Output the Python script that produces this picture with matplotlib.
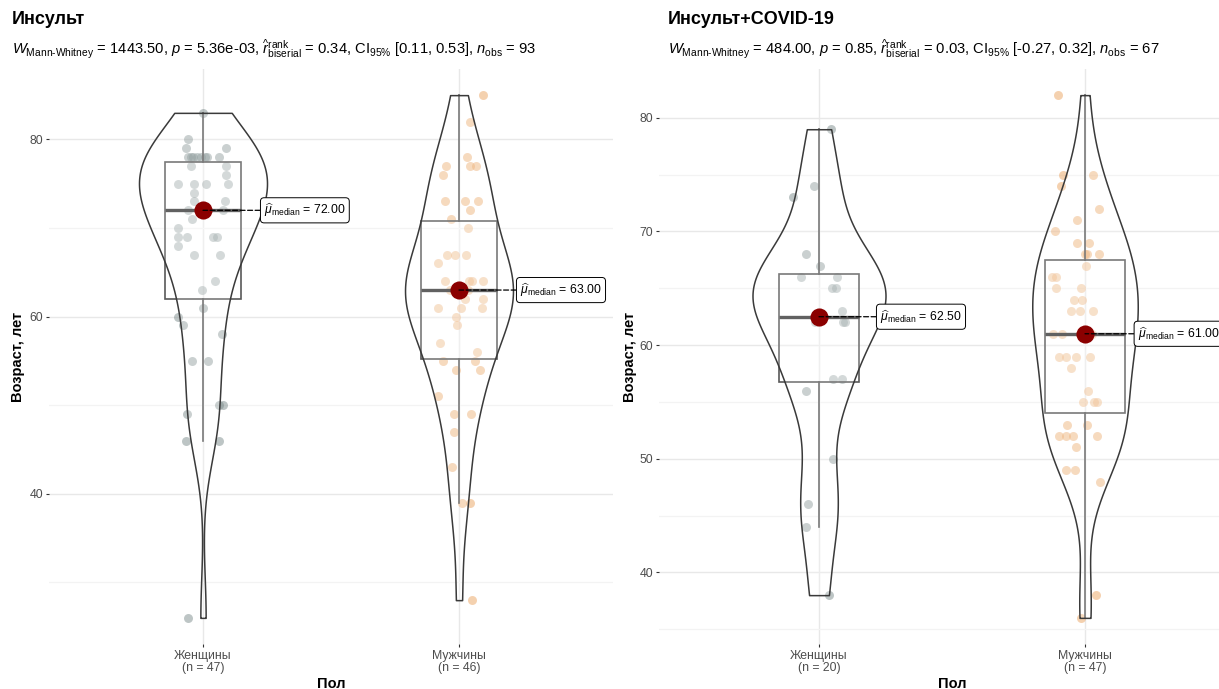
import numpy as np
import matplotlib
matplotlib.use("Agg")
import matplotlib.pyplot as plt
from matplotlib.mlab import GaussianKDE

plt.rcParams.update({
    "font.family": ["Liberation Sans", "DejaVu Sans"],
    "mathtext.fontset": "custom",
    "mathtext.rm": "Liberation Sans",
    "mathtext.it": "Liberation Sans:italic",
    "mathtext.bf": "Liberation Sans:bold",
})

# ---------------------------------------------------------------- data
groups = ["Женщины", "Мужчины"]
panel_titles = ["Инсульт", "Инсульт+COVID-19"]
subtitles = [
    r"$W_{\mathrm{Mann‐Whitney}}$ = 1443.50, $p$ = 5.36e-03, "
    r"$\widehat{r}_{\mathrm{biserial}}^{\mathrm{rank}}$ = 0.34, "
    r"CI$_{95\%}$ [0.11, 0.53], $n_{\mathrm{obs}}$ = ",
    r"$W_{\mathrm{Mann‐Whitney}}$ = 484.00, $p$ = 0.85, "
    r"$\widehat{r}_{\mathrm{biserial}}^{\mathrm{rank}}$ = 0.03, "
    r"CI$_{95\%}$ [-0.27, 0.32], $n_{\mathrm{obs}}$ = ",
]

# age (years) of each patient
stroke_women = [83, 80, 79, 79, 78, 78, 78, 78, 78, 78, 78, 78, 77, 77, 76,
                75, 75, 75, 75, 74, 73, 73, 72, 72, 71, 70, 69, 69, 69, 69,
                68, 67, 67, 64, 63, 61, 60, 59, 58, 55, 55, 50, 50, 49, 46,
                46, 26]
stroke_men = [85, 82, 78, 77, 77, 77, 76, 73, 73, 73, 72, 71, 70, 67, 67,
              67, 66, 64, 64, 64, 64, 63, 63, 63, 63, 62, 62, 61, 61, 61,
              60, 59, 57, 56, 55, 55, 54, 54, 51, 49, 49, 47, 43, 39, 39,
              28]
covid_women = [79, 74, 73, 68, 67, 66, 66, 65, 65, 63, 62, 62, 62, 57, 57,
               56, 50, 46, 44, 38]
covid_men = [82, 75, 75, 74, 72, 71, 70, 69, 69, 68, 68, 68, 67, 66, 66,
             65, 65, 64, 64, 63, 63, 63, 61, 61, 61, 61, 59, 59, 59, 59,
             58, 56, 55, 55, 55, 53, 53, 52, 52, 52, 52, 51, 49, 49, 48,
             38, 36]

# horizontal jitter of the points (fraction of a category slot)
jit_stroke_women = [0.00, -0.06, -0.066, 0.09, -0.059, -0.047, -0.023, 0.008,
                    0.016, 0.063, -0.039, -0.008, -0.047, 0.09, 0.09, -0.098,
                    -0.035, 0.012, 0.098, -0.035, -0.035, 0.086, -0.059, 0.078,
                    -0.043, -0.098, -0.098, -0.063, 0.039, 0.055, -0.098,
                    -0.035, 0.066, 0.047, -0.004, 0.0, -0.098, -0.078, 0.074,
                    -0.043, 0.02, 0.063, 0.078, -0.063, -0.066, 0.063, -0.059]
jit_stroke_men = [0.094, 0.043, 0.031, -0.051, 0.043, 0.066, -0.063, -0.055,
                  0.023, 0.074, 0.043, -0.031, 0.035, -0.047, -0.016, 0.027,
                  -0.082, -0.055, 0.039, 0.051, 0.094, -0.035, -0.012, 0.012,
                  0.035, 0.023, 0.094, -0.082, 0.008, 0.09, -0.012, -0.008,
                  -0.074, 0.07, -0.063, 0.063, -0.012, 0.082, -0.082, -0.02,
                  0.047, -0.02, -0.027, 0.012, 0.043, 0.051]
jit_covid_women = [0.045, -0.018, -0.097, -0.049, 0.004, -0.069, 0.067, 0.048,
                   0.064, 0.085, 0.089, 0.098, -0.015, 0.053, 0.085, -0.05,
                   0.052, -0.04, -0.049, 0.039]
jit_covid_men = [-0.1, -0.084, 0.029, -0.091, 0.054, -0.031, -0.113, -0.031,
                 0.016, 0.0, 0.009, 0.054, 0.004, -0.125, -0.109, -0.11,
                 -0.016, -0.04, -0.012, -0.054, 0.029, -0.019, -0.119, -0.088,
                 -0.019, 0.026, -0.097, -0.071, -0.035, 0.019, -0.054, 0.01,
                 -0.009, 0.034, 0.044, -0.067, 0.006, -0.097, -0.071, -0.044,
                 0.045, -0.034, -0.071, -0.038, 0.056, 0.04, -0.016]

panels = [
    dict(title=panel_titles[0], subtitle=subtitles[0],
         data=[stroke_women, stroke_men],
         jitter=[jit_stroke_women, jit_stroke_men],
         major=[40, 60, 80], minor=[30, 50, 70],
         box_px=(49.4, 612.6), title_x=12, ylab_x=18, label_dx=[44, 44]),
    dict(title=panel_titles[1], subtitle=subtitles[1],
         data=[covid_women, covid_men],
         jitter=[jit_covid_women, jit_covid_men],
         major=[40, 50, 60, 70, 80], minor=[35, 45, 55, 65, 75],
         box_px=(659.4, 1244.6), title_x=668, ylab_x=630, label_dx=[44, 38]),
]

point_colors = ["#7d8c8c", "#eba461"]
grid_major = "#e8e8e8"
grid_minor = "#f3f3f3"

# ---------------------------------------------------------------- figure
W, H = 1219, 689
fig = plt.figure(figsize=(W / 100, H / 100), dpi=100)
top_px, bottom_px = 69, 644


def nrd0(x):
    """Silverman's rule of thumb, as R's bw.nrd0."""
    x = np.asarray(x, float)
    sd = x.std(ddof=1)
    iqr = np.subtract(*np.percentile(x, [75, 25]))
    lo = min(sd, iqr / 1.34)
    return 0.9 * lo * len(x) ** -0.2


for p in panels:
    x0, x1 = p["box_px"]
    ax = fig.add_axes([x0 / W, 1 - bottom_px / H, (x1 - x0) / W,
                       (bottom_px - top_px) / H])
    allv = np.concatenate([np.asarray(d, float) for d in p["data"]])
    pad = 0.05 * (allv.max() - allv.min())
    ax.set_ylim(allv.min() - pad, allv.max() + pad)
    ax.set_xlim(0.4, 2.6)

    # grid
    ax.set_yticks(p["major"])
    ax.set_yticks(p["minor"], minor=True)
    ax.set_xticks([1, 2])
    ax.grid(True, which="major", color=grid_major, lw=1.0, zorder=0)
    ax.grid(True, which="minor", axis="y", color=grid_minor, lw=0.9, zorder=0)
    ax.set_axisbelow(True)
    for s in ax.spines.values():
        s.set_visible(False)
    ax.tick_params(axis="both", which="major", length=2.5, width=0.8,
                   color="#333333", labelsize=8.8, labelcolor="#4d4d4d", pad=2)
    ax.tick_params(axis="y", which="minor", length=0)
    ax.set_xticklabels([f"{g}\n(n = {len(d)})" for g, d in zip(groups, p["data"])],
                       linespacing=1.0)

    # jittered points
    for i, (vals, jit) in enumerate(zip(p["data"], p["jitter"])):
        ax.scatter(np.full(len(vals), i + 1) + np.asarray(jit), vals, s=42,
                   color=point_colors[i], alpha=0.5, linewidths=0, zorder=2)

    # box plots
    for i, vals in enumerate(p["data"]):
        ax.boxplot([vals], positions=[i + 1], widths=0.3, whis=1.5,
                   showfliers=False, showcaps=False, patch_artist=True,
                   boxprops=dict(facecolor=(1, 1, 1, 0.2), edgecolor="#595959", lw=1.2),
                   whiskerprops=dict(color="#595959", lw=1.2),
                   medianprops=dict(color="#3a3a3a", lw=2.4),
                   manage_ticks=False, zorder=3)

    # violins (equal-area scaling within the panel, trimmed to data range)
    curves = []
    for vals in p["data"]:
        v = np.asarray(vals, float)
        kde = GaussianKDE(v, bw_method=nrd0(v) / v.std(ddof=1))
        yy = np.linspace(v.min(), v.max(), 512)
        curves.append((yy, kde.evaluate(yy)))
    dmax = max(c[1].max() for c in curves)
    for i, (yy, dd) in enumerate(curves):
        hw = dd / dmax * 0.25
        ax.fill_betweenx(yy, i + 1 - hw, i + 1 + hw, facecolor=(1, 1, 1, 0.2),
                         edgecolor="#3a3a3a", lw=1.1, zorder=4)

    # medians with labels
    for i, vals in enumerate(p["data"]):
        med = float(np.median(vals))
        ax.scatter([i + 1], [med], s=170, color="#8b0000", zorder=6,
                   linewidths=0)
        ax.annotate(r"$\widehat{\mu}_{\mathrm{median}}$ = " + f"{med:.2f}",
                    xy=(i + 1, med), xytext=(p["label_dx"][i], 0),
                    textcoords="offset points",
                    ha="left", va="center", fontsize=8.8, color="black",
                    bbox=dict(boxstyle="round,pad=0.3,rounding_size=0.3",
                              fc="white", ec="black", lw=0.7),
                    arrowprops=dict(arrowstyle="-", ls=(0, (4, 2)), color="black",
                                    lw=0.9, shrinkA=0, shrinkB=0),
                    zorder=7, annotation_clip=False)

    # titles and axis labels
    n_obs = sum(len(d) for d in p["data"])
    fig.text(p["title_x"] / W, 1 - 20 / H, p["title"], fontsize=13,
             fontweight="bold", ha="left", va="center")
    fig.text(p["title_x"] / W, 1 - 49 / H, p["subtitle"] + f"{n_obs}",
             fontsize=10.6, ha="left", va="center")
    ax.set_ylabel("Возраст, лет", fontsize=10.5, fontweight="bold")
    ax.yaxis.label.set_va("center")
    ax.yaxis.set_label_coords((p["ylab_x"] - x0) / (x1 - x0), 0.5)
    ax.set_xlabel("Пол", fontsize=10.5, fontweight="bold")
    ax.xaxis.set_label_coords(0.5, -(677 - bottom_px) / (bottom_px - top_px))

fig.savefig("out.png", dpi=100)
